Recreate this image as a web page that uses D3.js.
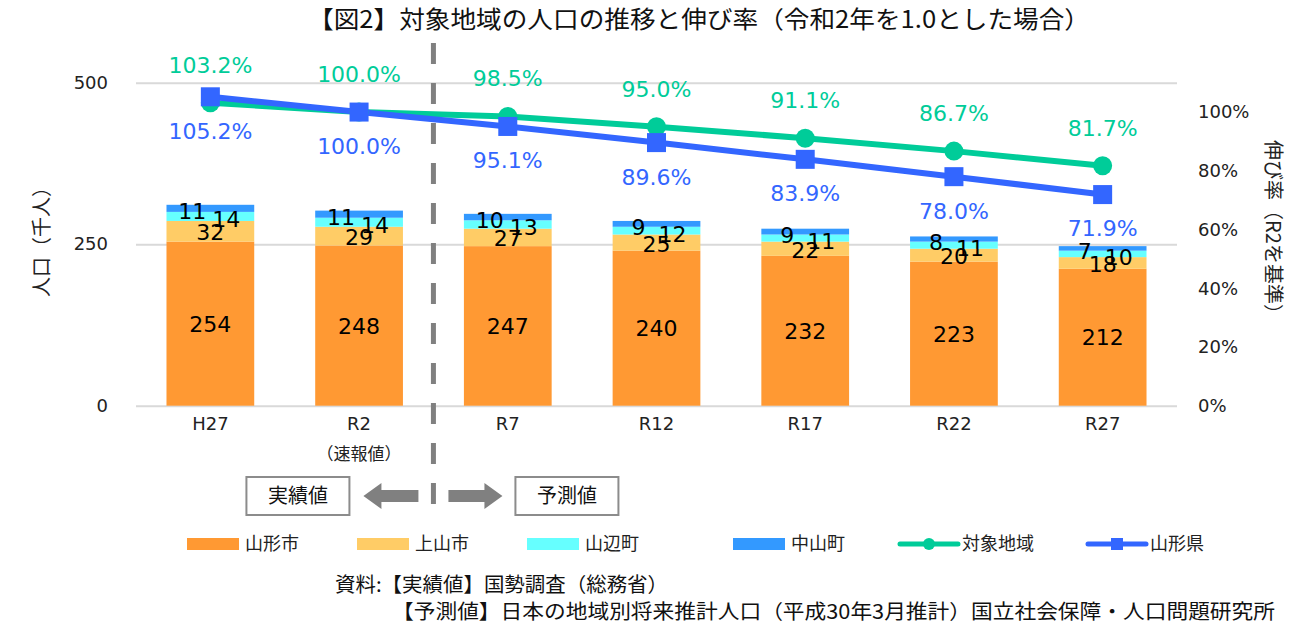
<!DOCTYPE html>
<html lang="ja">
<head>
<meta charset="UTF-8">
<script src="https://cdn.jsdelivr.net/npm/d3@7"></script>
<title>対象地域の人口の推移と伸び率</title>
<style>
  body { margin: 0; background: #fff; }
  svg { display: block; }
  .num { font-family: "DejaVu Sans", Verdana, sans-serif; }
  .jp { font-family: "Noto Sans CJK JP", "Noto Sans", sans-serif; }
  .axis .domain { display: none; }
</style>
</head>
<body>
<svg id="chart" width="1292" height="636"></svg>
<script>
// 区分（年）
var categories = ["H27", "R2", "R7", "R12", "R17", "R22", "R27"];
var subLabels = ["", "（速報値）", "", "", "", "", ""];

// 人口（千人）
var seriesNames = ["山形市", "上山市", "山辺町", "中山町"];
var yamagataCity = [254, 248, 247, 240, 232, 223, 212];
var kaminoyamaCity = [32, 29, 27, 25, 22, 20, 18];
var yamanobeTown = [14, 14, 13, 12, 11, 11, 10];
var nakayamaTown = [11, 11, 10, 9, 9, 8, 7];

// 伸び率（R2 = 1.0）
var lineNames = ["対象地域", "山形県"];
var targetArea = [1.032, 1.000, 0.985, 0.950, 0.911, 0.867, 0.817];
var prefecture = [1.052, 1.000, 0.951, 0.896, 0.839, 0.780, 0.719];

var leftTicks = [0, 250, 500];
var rightTicks = [0, 0.2, 0.4, 0.6, 0.8, 1.0];

var barColors = ["#FF9933", "#FFCC66", "#66FFFF", "#3399FF"];
var lineColors = ["#00CC99", "#3366FF"];

var svg = d3.select("#chart");
var plot = {left: 136, right: 1177, top: 82.7, bottom: 405.7};

var x = d3.scaleBand()
    .domain(categories)
    .range([plot.left, plot.right])
    .paddingInner(0.41)
    .paddingOuter(0.205);
var y = d3.scaleLinear().domain([0, 500]).range([plot.bottom, plot.top]);
var yRate = d3.scaleLinear().domain([0, 1.1]).range([plot.bottom, plot.top]);
var cx = function (c) { return x(c) + x.bandwidth() / 2; };

// 表を組み立て
var table = categories.map(function (c, i) {
    return {cat: c, "山形市": yamagataCity[i], "上山市": kaminoyamaCity[i],
            "山辺町": yamanobeTown[i], "中山町": nakayamaTown[i]};
});
var stacked = d3.stack().keys(seriesNames)(table);

// タイトル
svg.append("text").attr("class", "jp")
    .attr("x", 308).attr("y", 28)
    .attr("font-size", 24).attr("textLength", 782).attr("lengthAdjust", "spacingAndGlyphs")
    .attr("fill", "#111")
    .text("【図2】対象地域の人口の推移と伸び率（令和2年を1.0とした場合）");

// 目盛線と左軸
svg.append("g").attr("class", "axis num")
    .attr("transform", "translate(" + plot.left + ",0)")
    .call(d3.axisLeft(y).tickValues(leftTicks).tickSize(-(plot.right - plot.left)).tickPadding(28))
    .call(function (g) {
        g.selectAll(".tick line").attr("stroke", "#d9d9d9").attr("stroke-width", 2);
        g.selectAll(".tick text").attr("font-size", 18).attr("fill", "#222");
    });

// 右軸
svg.append("g").attr("class", "axis num")
    .attr("transform", "translate(" + plot.right + ",0)")
    .call(d3.axisRight(yRate).tickValues(rightTicks).tickSize(0).tickPadding(21).tickFormat(d3.format(".0%")))
    .call(function (g) {
        g.selectAll(".tick text").attr("font-size", 18).attr("fill", "#222");
    });

// 横軸
var xAxis = svg.append("g").attr("class", "axis num")
    .attr("transform", "translate(0," + plot.bottom + ")")
    .call(d3.axisBottom(x).tickSize(0).tickPadding(12));
xAxis.selectAll(".tick text").attr("font-size", 18).attr("fill", "#222");
xAxis.selectAll(".tick").append("text")
    .attr("class", "jp")
    .attr("y", 54).attr("fill", "#222").attr("font-size", 17)
    .attr("text-anchor", "middle")
    .text(function (d) { return subLabels[categories.indexOf(d)]; });

// 軸タイトル
svg.append("text").attr("class", "jp")
    .attr("transform", "translate(49,237) rotate(-90)")
    .attr("text-anchor", "middle").attr("font-size", 20).attr("fill", "#222")
    .text("人口（千人）");
svg.append("text").attr("class", "jp")
    .attr("transform", "translate(1266,232) rotate(90)")
    .attr("text-anchor", "middle").attr("font-size", 20).attr("fill", "#222")
    .text("伸び率（R2を基準）");

// 積み上げ棒
var layers = svg.append("g").selectAll("g")
    .data(stacked).join("g")
    .attr("fill", function (d, i) { return barColors[i]; });
layers.selectAll("rect")
    .data(function (d) { return d; })
    .join("rect")
    .attr("x", function (d) { return x(d.data.cat); })
    .attr("width", x.bandwidth())
    .attr("y", function (d) { return y(d[1]); })
    .attr("height", function (d) { return y(d[0]) - y(d[1]); });

// 棒のラベル（小さい区分は左右にずらす）
var labelShift = [[0, 0], [0, 1], [16, 3], [-18, 3]];
stacked.forEach(function (layer, li) {
    svg.append("g").selectAll("text")
        .data(layer).join("text")
        .attr("class", "num")
        .attr("x", function (d) { return cx(d.data.cat) + labelShift[li][0]; })
        .attr("y", function (d) { return (y(d[0]) + y(d[1])) / 2 + labelShift[li][1]; })
        .attr("dy", "0.36em")
        .attr("text-anchor", "middle")
        .attr("font-size", 22).attr("fill", "#000")
        .text(function (d) { return d[1] - d[0]; });
});

// 実績値／予測値の区切り
var sepX = (cx("R2") + cx("R7")) / 2;
svg.append("line")
    .attr("x1", sepX).attr("x2", sepX).attr("y1", 43).attr("y2", 510)
    .attr("stroke", "#808080").attr("stroke-width", 5)
    .attr("stroke-dasharray", "21 19");

// 折れ線
var lineSeries = [targetArea, prefecture];
var line = d3.line()
    .x(function (d, i) { return cx(categories[i]); })
    .y(function (d) { return yRate(d); });
lineSeries.forEach(function (vals, si) {
    svg.append("path")
        .datum(vals)
        .attr("fill", "none")
        .attr("stroke", lineColors[si])
        .attr("stroke-width", 6)
        .attr("d", line);
});
svg.append("g").selectAll("circle")
    .data(targetArea).join("circle")
    .attr("cx", function (d, i) { return cx(categories[i]); })
    .attr("cy", function (d) { return yRate(d); })
    .attr("r", 9.5).attr("fill", lineColors[0]);
svg.append("g").selectAll("rect")
    .data(prefecture).join("rect")
    .attr("x", function (d, i) { return cx(categories[i]) - 9.5; })
    .attr("y", function (d) { return yRate(d) - 9.5; })
    .attr("width", 19).attr("height", 19).attr("fill", lineColors[1]);

var pct = d3.format(".1%");
svg.append("g").selectAll("text")
    .data(targetArea).join("text")
    .attr("class", "num")
    .attr("x", function (d, i) { return cx(categories[i]); })
    .attr("y", function (d) { return yRate(d) - 38; })
    .attr("dy", "0.36em").attr("text-anchor", "middle")
    .attr("font-size", 22).attr("fill", lineColors[0])
    .text(pct);
svg.append("g").selectAll("text")
    .data(prefecture).join("text")
    .attr("class", "num")
    .attr("x", function (d, i) { return cx(categories[i]); })
    .attr("y", function (d) { return yRate(d) + 34; })
    .attr("dy", "0.36em").attr("text-anchor", "middle")
    .attr("font-size", 22).attr("fill", lineColors[1])
    .text(pct);

// 実績値・予測値の枠と矢印
var boxes = [{text: "実績値", x0: sepX - 187}, {text: "予測値", x0: sepX + 82}];
boxes.forEach(function (b) {
    svg.append("rect")
        .attr("x", b.x0).attr("y", 477).attr("width", 103).attr("height", 38)
        .attr("fill", "#fff").attr("stroke", "#8c8c8c").attr("stroke-width", 2);
    svg.append("text").attr("class", "jp")
        .attr("x", b.x0 + 51.5).attr("y", 496).attr("dy", "0.36em")
        .attr("text-anchor", "middle").attr("font-size", 20).attr("fill", "#111")
        .text(b.text);
});
function arrow(tip, tail) {
    var dir = tail > tip ? 1 : -1, head = 18 * dir;
    return d3.line()([
        [tip, 496], [tip + head, 483], [tip + head, 490], [tail, 490],
        [tail, 502], [tip + head, 502], [tip + head, 509]
    ]) + "Z";
}
svg.append("path").attr("d", arrow(sepX - 70, sepX - 15)).attr("fill", "#808080");
svg.append("path").attr("d", arrow(sepX + 69, sepX + 15)).attr("fill", "#808080");

// 凡例
var legendY = 544;
var legendX = [187, 357, 527, 733, 900, 1088];
var legend = svg.append("g").attr("class", "jp");
seriesNames.forEach(function (n, i) {
    legend.append("rect")
        .attr("x", legendX[i]).attr("y", legendY - 6).attr("width", 52).attr("height", 12)
        .attr("fill", barColors[i]);
    legend.append("text")
        .attr("x", legendX[i] + 58).attr("y", legendY).attr("dy", "0.36em")
        .attr("font-size", 18).attr("fill", "#222").text(n);
});
lineNames.forEach(function (n, i) {
    var lx = legendX[4 + i];
    legend.append("line")
        .attr("x1", lx).attr("x2", lx + 58).attr("y1", legendY).attr("y2", legendY)
        .attr("stroke", lineColors[i]).attr("stroke-width", 5).attr("stroke-linecap", "round");
    if (i === 0) {
        legend.append("circle").attr("cx", lx + 29).attr("cy", legendY).attr("r", 6)
            .attr("fill", lineColors[i]);
    } else {
        legend.append("rect").attr("x", lx + 23).attr("y", legendY - 6)
            .attr("width", 12).attr("height", 12).attr("fill", lineColors[i]);
    }
    legend.append("text")
        .attr("x", lx + 62).attr("y", legendY).attr("dy", "0.36em")
        .attr("font-size", 18).attr("fill", "#222").text(n);
});

// 資料
svg.append("text").attr("class", "jp")
    .attr("x", 335).attr("y", 592).attr("font-size", 20)
    .attr("textLength", 333).attr("lengthAdjust", "spacingAndGlyphs")
    .attr("fill", "#111")
    .text("資料:【実績値】国勢調査（総務省）");
svg.append("text").attr("class", "jp")
    .attr("x", 392).attr("y", 619).attr("font-size", 20)
    .attr("textLength", 883).attr("lengthAdjust", "spacingAndGlyphs")
    .attr("fill", "#111")
    .text("【予測値】日本の地域別将来推計人口（平成30年3月推計）国立社会保障・人口問題研究所");
</script>
</body>
</html>
